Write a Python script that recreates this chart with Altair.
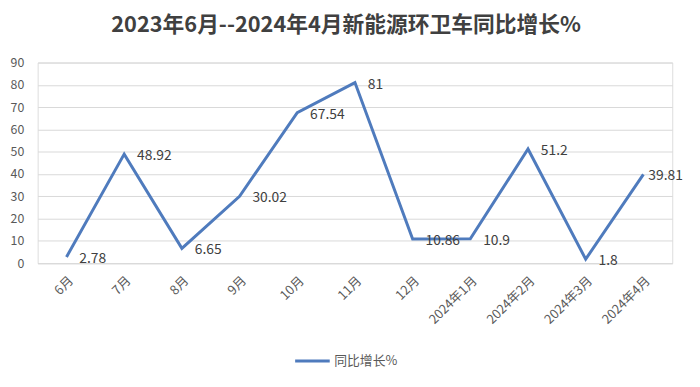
import altair as alt
import pandas as pd

months = ["6月", "7月", "8月", "9月", "10月", "11月", "12月",
          "2024年1月", "2024年2月", "2024年3月", "2024年4月"]
values = [2.78, 48.92, 6.65, 30.02, 67.54, 81, 10.86, 10.9, 51.2, 1.8, 39.81]
labels = ["2.78", "48.92", "6.65", "30.02", "67.54", "81", "10.86", "10.9", "51.2", "1.8", "39.81"]
series = ["同比增长%"] * len(months)
y_ticks = [0, 10, 20, 30, 40, 50, 60, 70, 80, 90]

df = pd.DataFrame({"month": months, "value": values, "label": labels, "series": series})

FONT = "Noto Sans CJK SC"
LINE_COLOR = "#4F7BBD"

x = alt.X("month:N", sort=months, title=None,
          scale=alt.Scale(type="point", padding=0.5),
          axis=alt.Axis(labelAngle=-45, labelFontSize=13, labelColor="#595959",
                        labelFont=FONT, ticks=False, domain=True,
                        domainColor="#d9d9d9", labelPadding=11, grid=False,
                        labelOverlap=False))
y = alt.Y("value:Q", title=None,
          scale=alt.Scale(domain=[0, 90], nice=False),
          axis=alt.Axis(values=y_ticks, tickCount=10, labelFontSize=12.5,
                        labelColor="#595959", labelFont=FONT, ticks=False,
                        domain=False, gridColor="#d9d9d9", gridWidth=1,
                        labelPadding=14, labelOverlap=False))

line = alt.Chart(df).mark_line(strokeWidth=3).encode(
    x=x, y=y,
    color=alt.Color("series:N", scale=alt.Scale(range=[LINE_COLOR]),
                    legend=alt.Legend(title=None, orient="none", legendX=259, legendY=283,
                                      symbolType="stroke", symbolSize=1225,
                                      symbolStrokeWidth=3, labelFontSize=13,
                                      labelColor="#595959", labelFont=FONT,
                                      labelOffset=3))
)

last = months[-1]

text = alt.Chart(df).transform_filter(alt.datum.month != last).mark_text(
    align="left", baseline="middle", dx=13, dy=2,
    fontSize=14, color="#404040", font=FONT).encode(
    x=alt.X("month:N", sort=months), y="value:Q", text="label:N"
)

text_last = alt.Chart(df).transform_filter(alt.datum.month == last).mark_text(
    align="left", baseline="middle", dx=5, dy=2,
    fontSize=14, color="#404040", font=FONT).encode(
    x=alt.X("month:N", sort=months), y="value:Q", text="label:N"
)

chart = alt.layer(line, text, text_last).properties(
    width=642, height=203,
    title=alt.TitleParams("2023年6月--2024年4月新能源环卫车同比增长%", fontSize=22,
                          fontWeight="bold", color="#404040", font=FONT,
                          anchor="middle", dx=-9, offset=20),
    autosize=alt.AutoSizeParams(type="none"),
    padding={"left": 30, "top": 53, "right": 20, "bottom": 116},
).configure_view(stroke=None).configure(background="white")

chart.save("out.html", embed_options={"renderer": "svg", "actions": False})
